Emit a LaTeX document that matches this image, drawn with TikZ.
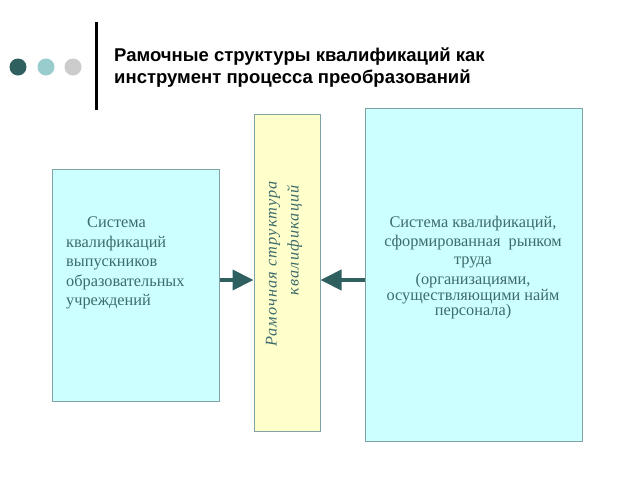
\documentclass[tikz,border=0pt]{standalone}
\usepackage{fontspec}
\setmainfont{Liberation Serif}
\newfontfamily\titlefont{Liberation Sans}
\usetikzlibrary{arrows.meta}
\definecolor{boxcyan}{HTML}{CCFFFF}
\definecolor{boxyellow}{HTML}{FFFFCC}
\definecolor{boxline}{HTML}{7FA3A3}
\definecolor{darkteal}{HTML}{2F5F5F}
\definecolor{midteal}{HTML}{99CCCC}
\definecolor{dotgray}{HTML}{CCCCCC}
\definecolor{textteal}{HTML}{3E6B6B}

\begin{document}
\begin{tikzpicture}[x=1pt,y=-1pt,
    block/.style={draw=boxline,line width=1pt,inner sep=0pt},
    blocktext/.style={text=textteal,font=\fontsize{16.3}{19.5}\selectfont,inner sep=0pt},
    feed/.style={draw=darkteal,line width=4pt,-{Triangle[length=21pt,width=20pt]}}]
   \useasboundingbox[fill=white] (0,0) rectangle (640,480);
   % header
   \fill[darkteal] (18,67) circle (8.5);
   \fill[midteal] (46,67) circle (8.5);
   \fill[dotgray] (73,67) circle (8.5);
   \draw[line width=3pt] (96,22) -- (96,110);
   \node[anchor=base west,align=left,inner sep=0pt,font=\titlefont\bfseries\fontsize{18.5}{22}\selectfont]
      (title) at (114,83) {Рамочные структуры квалификаций как\\инструмент процесса преобразований};
   % boxes
   \node[block,fill=boxcyan,minimum width=167pt,minimum height=232pt] (grads) at (135.5,285) {};
   \node[block,fill=boxyellow,minimum width=66pt,minimum height=317pt] (frame) at (287,272.5) {};
   \node[block,fill=boxcyan,minimum width=217pt,minimum height=333pt] (market) at (473.5,274.5) {};
   \node[blocktext,anchor=north west,align=left] (gradstext) at (66,217)
      {\hspace*{21pt}Система\\квалификаций\\выпускников\\образовательных\\учреждений};
   \node[blocktext,align=center,font=\fontsize{16.3}{18}\selectfont] (markettext) at (473,268)
      {Система квалификаций,\\[1pt]сформированная\ \ рынком\\труда\\[2pt](организациями,\\[-2pt]осуществляющими найм\\[-3pt]персонала)};
   \node[blocktext,rotate=90,align=right,font=\itshape\addfontfeature{LetterSpace=7}\fontsize{16.3}{22}\selectfont]
      (frametext) at (284,264) {Рамочная структура\\квалификаций\hspace*{4pt}};
   % arrows
   \draw[feed] (grads.east |- 0,280) -- (frame.west |- 0,280);
   \draw[feed] (market.west |- 0,280) -- (frame.east |- 0,280);
\end{tikzpicture}
\end{document}
